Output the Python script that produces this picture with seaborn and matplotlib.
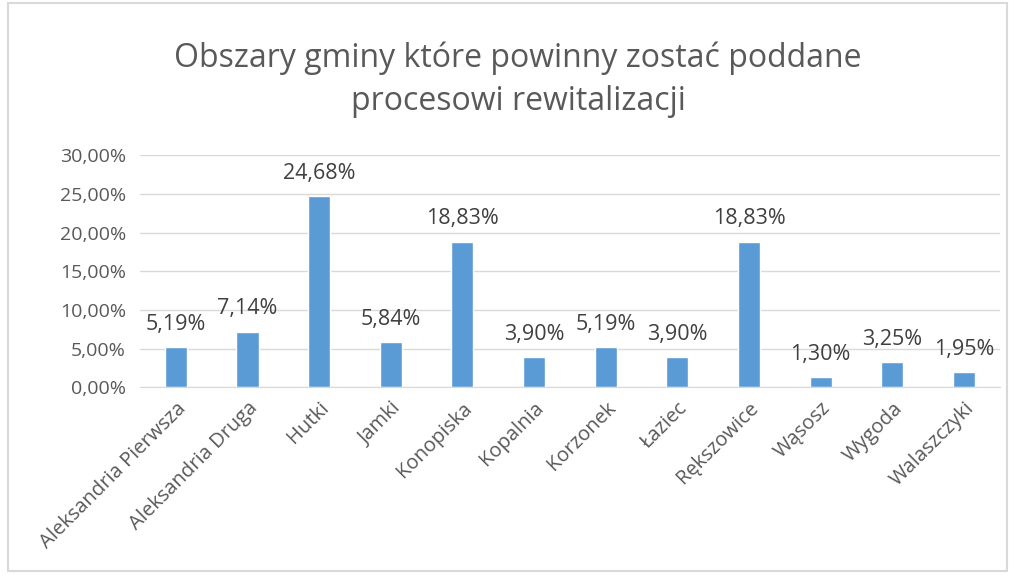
import numpy as np
import pandas as pd
import matplotlib
matplotlib.use("Agg")
import matplotlib.pyplot as plt
import seaborn as sns

# Data
areas = ["Aleksandria Pierwsza", "Aleksandria Druga", "Hutki", "Jamki", "Konopiska",
         "Kopalnia", "Korzonek", "Łaziec", "Rększowice", "Wąsosz", "Wygoda", "Walaszczyki"]
shares = [5.19, 7.14, 24.68, 5.84, 18.83, 3.90, 5.19, 3.90, 18.83, 1.30, 3.25, 1.95]
yticks = [0, 5, 10, 15, 20, 25, 30]

df = pd.DataFrame({"obszar": areas, "udzial": shares})

sns.set_style("white")
plt.rcParams['font.family'] = ['Open Sans', 'DejaVu Sans']

grey = "#595959"
fig = plt.figure(figsize=(10.14, 5.77), dpi=100)
ax = fig.add_axes([0.138, 0.329, 0.848, 0.402])

sns.barplot(data=df, x="obszar", y="udzial", color="#5B9BD5", width=0.31,
            saturation=1, ax=ax)

ax.set_ylim(0, 30)
ax.set_yticks(yticks)
ax.set_yticklabels([f"{v:.2f}%".replace(".", ",") for v in yticks], color=grey, fontsize=14)
ax.set_xticks(range(len(areas)))
ax.set_xticklabels(areas, rotation=45, ha="right", rotation_mode="anchor",
                   color=grey, fontsize=14.5)
ax.tick_params(axis="y", length=0, pad=10)
ax.tick_params(axis="x", length=0, pad=8)
ax.set_xlabel("")
ax.set_ylabel("")
ax.grid(axis="y", color="#d9d9d9", linewidth=1)
ax.set_axisbelow(True)
for s in ["top", "right", "left"]:
    ax.spines[s].set_visible(False)
ax.spines["bottom"].set_color("#d9d9d9")

for i, v in enumerate(shares):
    ax.annotate(f"{v:.2f}%".replace(".", ","), (i, v), xytext=(0, 9),
                textcoords="offset points", ha="center", va="bottom",
                fontsize=15.5, color="#404040")

fig.text(0.511, 0.862, "Obszary gminy które powinny zostać poddane\nprocesowi rewitalizacji",
         ha="center", va="center", fontsize=23, color=grey, linespacing=1.4)

# outer chart border
fig.patches.append(plt.Rectangle((0.008, 0.01), 0.985, 0.985, transform=fig.transFigure,
                                 fill=False, edgecolor="#d9d9d9", linewidth=1.5))

fig.savefig("out.png", dpi=100)
